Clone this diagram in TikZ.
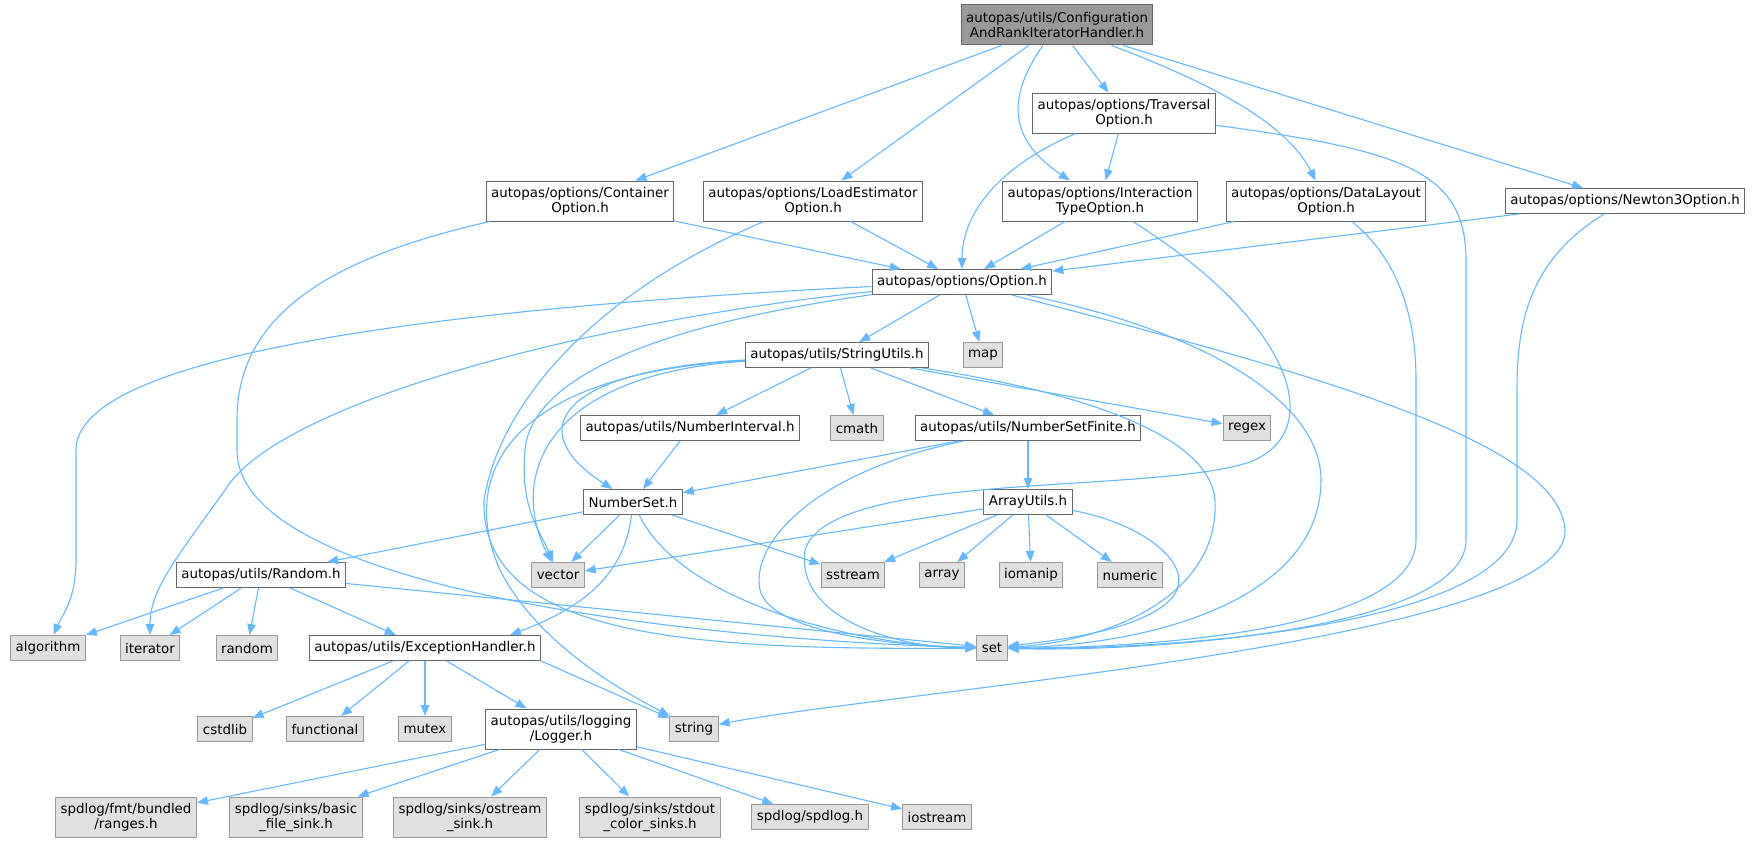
\documentclass[tikz,border=0pt]{standalone}
\usepackage{fontspec}
\setmainfont{DejaVu Sans}
\usetikzlibrary{arrows.meta}
\definecolor{edgeblue}{HTML}{63B8FF}
\definecolor{boxline}{HTML}{666666}
\definecolor{sysline}{HTML}{999999}
\definecolor{sysfill}{HTML}{E0E0E0}
\definecolor{rootfill}{HTML}{999999}
\tikzset{
	file/.style={draw=boxline, fill=white, line width=1pt, inner xsep=5pt, inner ysep=2pt, minimum height=25pt, align=center, font=\fontsize{13.4}{15}\selectfont},
	sysfile/.style={file, draw=sysline, fill=sysfill},
	rootfile/.style={file, fill=rootfill},
	tall/.style={minimum height=40pt},
	dep/.style={draw=edgeblue, line width=1.1pt, -{Triangle[length=11pt,width=8.5pt]}}
}

\begin{document}
\begin{tikzpicture}[x=1pt, y=-1pt]
		%%%%% START %%%%%
		\useasboundingbox (0,0) rectangle (1752,843);
		
		\node[rootfile, tall] (root) at (1057,25) {autopas/utils/Configuration\\AndRankIteratorHandler.h};
		\node[file, tall] (trav) at (1124,113) {autopas/options/Traversal\\Option.h};
		
		\node[file, tall] (cont) at (580,201) {autopas/options/Container\\Option.h};
		\node[file, tall] (load) at (813,201) {autopas/options/LoadEstimator\\Option.h};
		\node[file, tall] (inter) at (1100,201) {autopas/options/Interaction\\TypeOption.h};
		\node[file, tall] (dlay) at (1326,201) {autopas/options/DataLayout\\Option.h};
		\node[file] (newt) at (1625,201) {autopas/options/Newton3Option.h};
		
		\node[file] (opt) at (962,282) {autopas/options/Option.h};
		\node[file] (strut) at (837,355) {autopas/utils/StringUtils.h};
		\node[sysfile] (map) at (983,355) {map};
		
		\node[file] (numint) at (690,428) {autopas/utils/NumberInterval.h};
		\node[sysfile] (cmath) at (857,428) {cmath};
		\node[file] (numfin) at (1028,428) {autopas/utils/NumberSetFinite.h};
		\node[sysfile] (regex) at (1247,428) {regex};
		
		\node[file] (numset) at (633,502) {NumberSet.h};
		\node[file] (arrut) at (1028,502) {ArrayUtils.h};
		
		\node[file] (rand) at (261,575) {autopas/utils/Random.h};
		\node[sysfile] (vector) at (558,575) {vector};
		\node[sysfile] (sstream) at (853,575) {sstream};
		\node[sysfile] (array) at (942,575) {array};
		\node[sysfile] (iomanip) at (1031,575) {iomanip};
		\node[sysfile] (numeric) at (1130,575) {numeric};
		
		\node[sysfile] (algo) at (48,648) {algorithm};
		\node[sysfile] (iter) at (150,648) {iterator};
		\node[sysfile] (random) at (247,648) {random};
		\node[file] (exch) at (425,648) {autopas/utils/ExceptionHandler.h};
		\node[sysfile] (set) at (992,648) {set};
		
		\node[sysfile] (cstdlib) at (225,729) {cstdlib};
		\node[sysfile] (func) at (325,729) {functional};
		\node[sysfile] (mutex) at (425,729) {mutex};
		\node[file, tall] (logger) at (561,729) {autopas/utils/logging\\/Logger.h};
		\node[sysfile] (string) at (694,729) {string};
		
		\node[sysfile, tall] (ranges) at (126,817) {spdlog/fmt/bundled\\/ranges.h};
		\node[sysfile, tall] (basic) at (296,817) {spdlog/sinks/basic\\\_file\_sink.h};
		\node[sysfile, tall] (ostream) at (470,817) {spdlog/sinks/ostream\\\_sink.h};
		\node[sysfile, tall] (stdout) at (650,817) {spdlog/sinks/stdout\\\_color\_sinks.h};
		\node[sysfile] (spdlog) at (810,817) {spdlog/spdlog.h};
		\node[sysfile] (iostream) at (937,817) {iostream};
		
		\draw[dep] (root) -- (cont);
		\draw[dep] (root) -- (load);
		\draw[dep] (root) .. controls (1005,100) and (1010,140) .. (inter);
		\draw[dep] (root) -- (trav);
		\draw[dep] (root) .. controls (1230,90) and (1290,130) .. (dlay);
		\draw[dep] (root) -- (newt);
		
		\draw[dep] (trav) .. controls (990,170) and (962,220) .. (opt);
		\draw[dep] (trav) -- (inter);
		\draw[dep] (trav) .. controls (1400,150) and (1466,170) .. (1466,260) -- (1466,540) .. controls (1466,630) and (1150,652) .. (set);
		
		\draw[dep] (cont) -- (opt);
		\draw[dep] (cont) .. controls (320,260) and (237,320) .. (237,420) -- (237,450) .. controls (237,590) and (700,640) .. (set);
		\draw[dep] (load) -- (opt);
		\draw[dep] (load) .. controls (600,290) and (500,400) .. (484,500) .. controls (480,640) and (700,650) .. (set);
		\draw[dep] (inter) -- (opt);
		\draw[dep] (inter) .. controls (1290,320) and (1330,430) .. (1250,462) .. controls (1150,495) and (830,470) .. (805,550) .. controls (795,620) and (900,648) .. (set);
		\draw[dep] (dlay) -- (opt);
		\draw[dep] (dlay) .. controls (1400,260) and (1416,320) .. (1416,380) -- (1416,540) .. controls (1416,630) and (1150,648) .. (set);
		\draw[dep] (newt) -- (opt);
		\draw[dep] (newt) .. controls (1530,260) and (1517,320) .. (1517,390) -- (1517,520) .. controls (1517,620) and (1200,650) .. (set);
		
		\draw[dep] (opt) -- (strut);
		\draw[dep] (opt) -- (map);
		\draw[dep] (opt) .. controls (400,310) and (76,360) .. (76,450) -- (76,560) .. controls (76,600) and (62,615) .. (algo);
		\draw[dep] (opt) .. controls (600,320) and (280,400) .. (225,490) .. controls (175,560) and (150,590) .. (iter);
		\draw[dep] (opt) .. controls (620,330) and (530,390) .. (525,450) .. controls (520,510) and (540,530) .. (vector);
		\draw[dep] (opt) .. controls (1200,330) and (1321,400) .. (1321,480) .. controls (1321,600) and (1150,645) .. (set);
		\draw[dep] (opt) .. controls (1300,370) and (1560,440) .. (1565,530) .. controls (1570,640) and (900,690) .. (string);
		
		\draw[dep] (strut) -- (numint);
		\draw[dep] (strut) -- (cmath);
		\draw[dep] (strut) -- (numfin);
		\draw[dep] (strut) -- (regex);
		\draw[dep] (strut) .. controls (1100,395) and (1210,440) .. (1215,500) .. controls (1220,600) and (1100,642) .. (set);
		\draw[dep] (strut) .. controls (560,370) and (520,430) .. (numset);
		\draw[dep] (strut) .. controls (540,375) and (510,480) .. (vector);
		\draw[dep] (strut) .. controls (500,375) and (460,480) .. (500,570) .. controls (540,650) and (640,700) .. (string);
		
		\draw[dep] (numint) -- (numset);
		\draw[dep] (numfin) -- (numset);
		\draw[dep] (numfin) -- (arrut);
		\draw[dep] (numfin) .. controls (820,470) and (750,540) .. (760,590) .. controls (770,630) and (880,645) .. (set);
		
		\draw[dep] (numset) -- (rand);
		\draw[dep] (numset) -- (vector);
		\draw[dep] (numset) .. controls (625,570) and (590,605) .. ([xshift=85pt]exch.north);
		\draw[dep] (numset) .. controls (680,600) and (850,645) .. (set);
		\draw[dep] (numset) -- (sstream);
		
		\draw[dep] (arrut) -- (vector);
		\draw[dep] (arrut) -- (sstream);
		\draw[dep] (arrut) -- (array);
		\draw[dep] (arrut) -- (iomanip);
		\draw[dep] (arrut) -- (numeric);
		\draw[dep] (arrut) .. controls (1150,525) and (1200,570) .. (1170,600) .. controls (1140,630) and (1060,640) .. (set);
		
		\draw[dep] (rand) -- (algo);
		\draw[dep] (rand) -- (iter);
		\draw[dep] (rand) -- (random);
		\draw[dep] (rand) -- (exch);
		\draw[dep] (rand) -- (set);
		
		\draw[dep] (exch) -- (cstdlib);
		\draw[dep] (exch) -- (func);
		\draw[dep] (exch) -- (mutex);
		\draw[dep] (exch) -- (logger);
		\draw[dep] (exch.south east) -- (string);
		
		\draw[dep] (logger) -- (ranges);
		\draw[dep] (logger) -- (basic);
		\draw[dep] (logger) -- (ostream);
		\draw[dep] (logger) -- (stdout);
		\draw[dep] (logger) -- (spdlog);
		\draw[dep] (logger) -- (iostream);
		%%%%% END %%%%%
\end{tikzpicture}
\end{document}
